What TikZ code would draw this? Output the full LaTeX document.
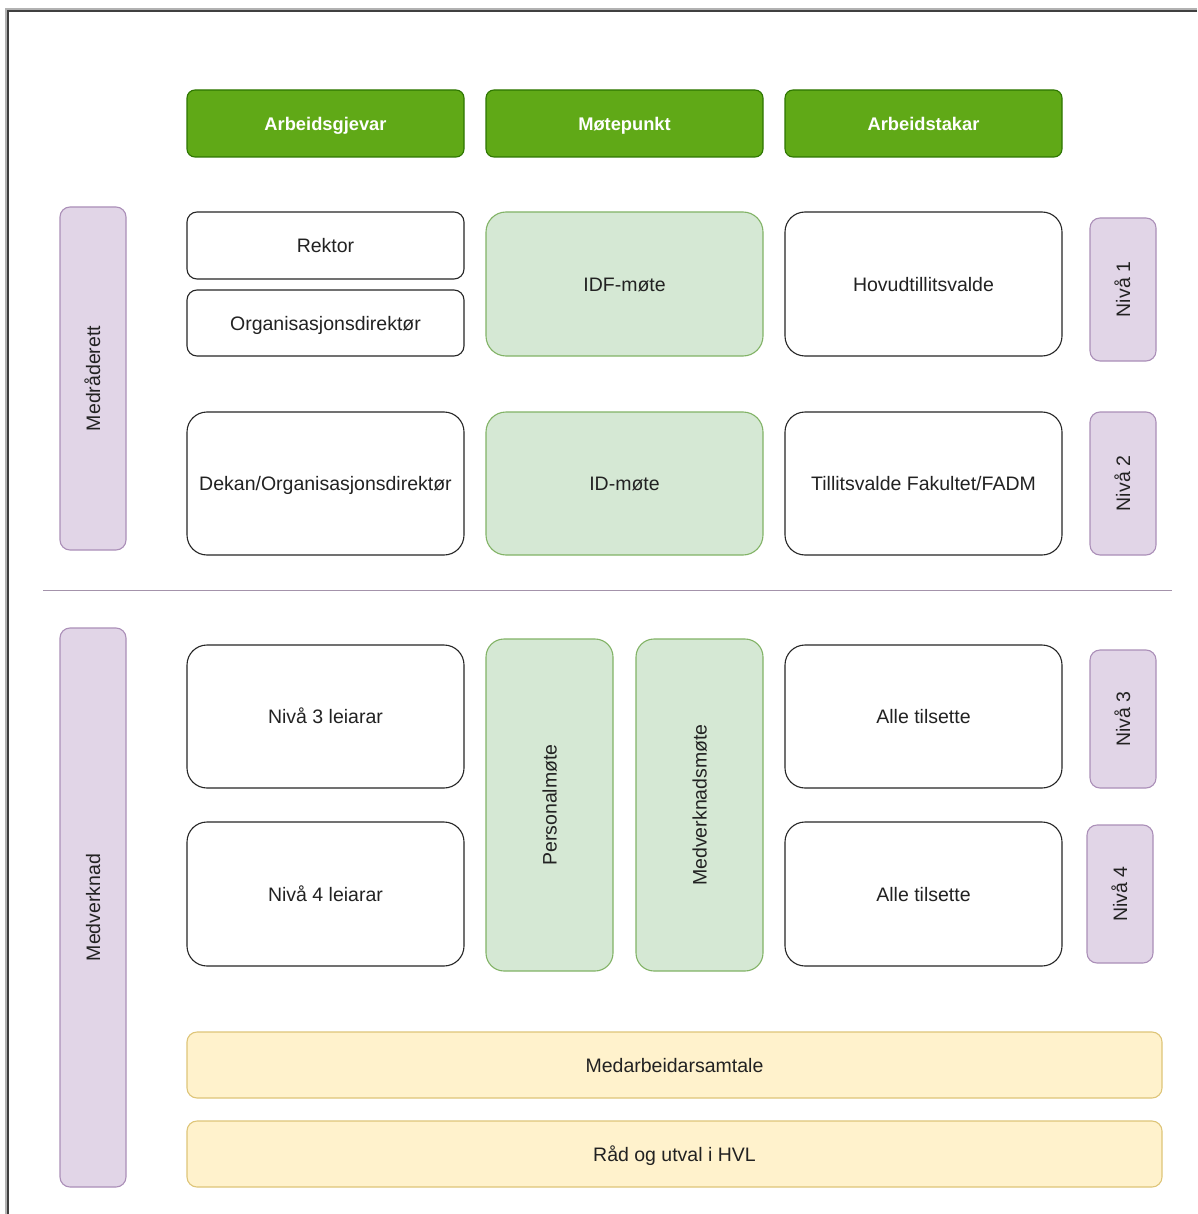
\documentclass[tikz,border=0pt]{standalone}
\usepackage{fontspec}
\setmainfont{Liberation Sans}
\definecolor{hdrfill}{HTML}{60A917}
\definecolor{hdrline}{HTML}{2D7600}
\definecolor{grnfill}{HTML}{D5E8D4}
\definecolor{grnline}{HTML}{82B366}
\definecolor{purfill}{HTML}{E1D5E7}
\definecolor{purline}{HTML}{9673A6}
\definecolor{yelfill}{HTML}{FFF2CC}
\definecolor{yelline}{HTML}{D6B656}
\definecolor{txt}{HTML}{222222}
\newcommand\mybox[7]{%
 \pgfmathsetmacro\bw{#5-#3}\pgfmathsetmacro\bh{#6-#4}%
 \pgfmathsetmacro\cx{(#3+#5)/2}\pgfmathsetmacro\cy{(#4+#6)/2}%
 \node[#2, minimum width=\bw pt, minimum height=\bh pt] (#1) at (\cx,\cy) {#7};}
\newcommand\myrbox[7]{%
 \pgfmathsetmacro\bw{#5-#3}\pgfmathsetmacro\bh{#6-#4}%
 \pgfmathsetmacro\cx{(#3+#5)/2}\pgfmathsetmacro\cy{(#4+#6)/2}%
 \node[#2, rotate=90, minimum width=\bh pt, minimum height=\bw pt] (#1) at (\cx,\cy) {#7};}
\tikzset{
 base/.style={inner sep=0pt, outer sep=0pt, line width=1.1pt, text=txt,
   font=\fontsize{19.5}{23}\selectfont, align=center, text height=14pt, text depth=0pt},
 hdr/.style={base, draw=hdrline, fill=hdrfill, rounded corners=8pt, text=white,
   font=\fontsize{18.3}{22}\selectfont\bfseries},
 wsmall/.style={base, draw=black!85, fill=white, rounded corners=10pt},
 wbig/.style={base, draw=black!85, fill=white, rounded corners=20pt},
 gbig/.style={base, draw=grnline, fill=grnfill, rounded corners=20pt},
 gtall/.style={base, draw=grnline, fill=grnfill, rounded corners=18pt},
 pur/.style={base, draw=purline!80, fill=purfill, rounded corners=10pt},
 yel/.style={base, draw=yelline!80, fill=yelfill, rounded corners=10pt},
}
\begin{document}
\begin{tikzpicture}[x=1pt,y=-1pt]
\useasboundingbox[fill=white] (0,0) rectangle (1197,1214);
% frame
\coordinate (ftr) at (1197,11);
\coordinate (ftl) at (8,11);
\coordinate (fbl) at (8,1214);
\draw[line width=3pt, black!30] (1197,9.5) -- (6.5,9.5) -- (6.5,1214);
\draw[line width=1.6pt, black!75] (ftr) -- (ftl) -- (fbl);
% headers
\mybox{h1}{hdr}{187}{90}{464}{157}{Arbeidsgjevar}
\mybox{h2}{hdr}{486}{90}{763}{157}{Møtepunkt}
\mybox{h3}{hdr}{785}{90}{1062}{157}{Arbeidstakar}
% level 1
\mybox{rektor}{wsmall}{187}{212}{464}{279}{Rektor}
\mybox{orgdir}{wsmall}{187}{290}{464}{356}{Organisasjonsdirektør}
\mybox{idf}{gbig}{486}{212}{763}{356}{IDF-møte}
\mybox{hovud}{wbig}{785}{212}{1062}{356}{Hovudtillitsvalde}
\myrbox{n1}{pur}{1090}{218}{1156}{361}{Nivå 1}
% level 2
\mybox{dekan}{wbig}{187}{412}{464}{555}{Dekan/Organisasjonsdirektør}
\mybox{id}{gbig}{486}{412}{763}{555}{ID-møte}
\mybox{fak}{wbig}{785}{412}{1062}{555}{Tillitsvalde Fakultet/FADM}
\myrbox{n2}{pur}{1090}{412}{1156}{555}{Nivå 2}
\myrbox{medr}{pur}{60}{207}{126}{550}{Medråderett}
% divider
\coordinate (dl) at (43,590);
\coordinate (dr) at (1172,590);
\draw[line width=1pt, purline!60!gray!80] (dl) -- (dr);
% level 3/4
\myrbox{medv}{pur}{60}{628}{126}{1187}{Medverknad}
\mybox{l3}{wbig}{187}{645}{464}{788}{Nivå 3 leiarar}
\mybox{a3}{wbig}{785}{645}{1062}{788}{Alle tilsette}
\myrbox{n3}{pur}{1090}{650}{1156}{788}{Nivå 3}
\myrbox{pers}{gtall}{486}{639}{613}{971}{Personalmøte}
\myrbox{medvm}{gtall}{636}{639}{763}{971}{Medverknadsmøte}
\mybox{l4}{wbig}{187}{822}{464}{966}{Nivå 4 leiarar}
\mybox{a4}{wbig}{785}{822}{1062}{966}{Alle tilsette}
\myrbox{n4}{pur}{1087}{825}{1153}{963}{Nivå 4}
% bottom bars
\mybox{mas}{yel}{187}{1032}{1162}{1098}{Medarbeidarsamtale}
\mybox{rad}{yel}{187}{1121}{1162}{1187}{Råd og utval i HVL}
\end{tikzpicture}
\end{document}
